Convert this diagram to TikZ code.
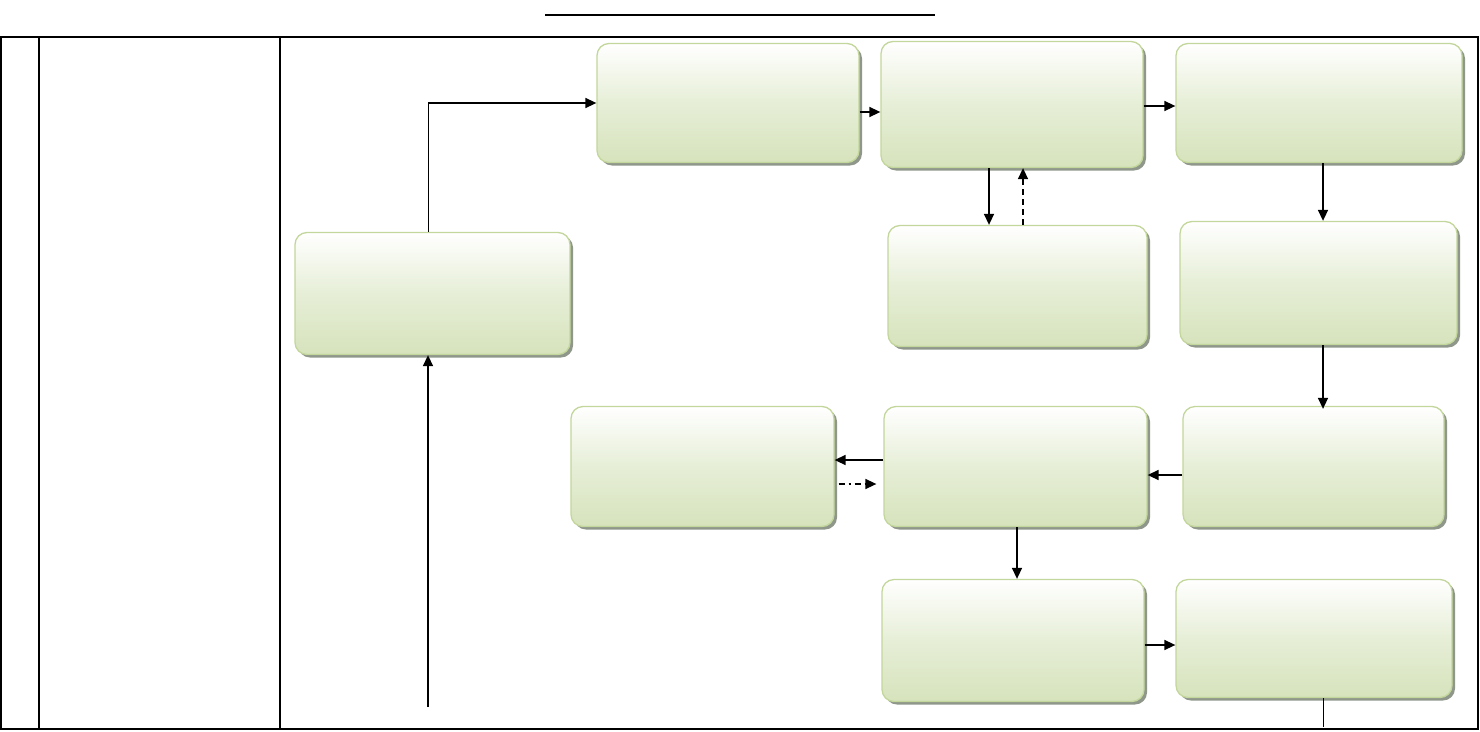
\documentclass[tikz,border=0pt]{standalone}
\usetikzlibrary{arrows.meta,shadows}

\definecolor{boxgreen}{RGB}{214,227,188}
\definecolor{boxline}{RGB}{195,214,155}
\definecolor{shadowgray}{RGB}{143,150,138}

\tikzset{
	stepbox/.style={rounded corners=12pt,draw=boxline,line width=1.3pt,
		top color=white,bottom color=boxgreen,middle color=boxgreen!60,
		drop shadow={shadow xshift=3pt,shadow yshift=-3pt,fill=shadowgray,opacity=1},
		minimum width=#1,minimum height=119pt,inner sep=0pt},
	stepbox/.default=262pt,
	arr/.style={line width=1.5pt,-{Triangle[length=11pt,width=10pt]}},
}

\begin{document}
\begin{tikzpicture}[x=1pt,y=-1pt,thick]
	\useasboundingbox (0,0) rectangle (1480,731);

	% frame and title rule
	\draw[line width=1.4pt] (545,15) -- (935,15);
	\draw[line width=1.4pt] (1,37) rectangle (1478,729);
	\draw[line width=1.4pt] (39,37) -- (39,729);
	\draw[line width=1.4pt] (280,37) -- (280,729);

	\node[stepbox] (A) at (728,103) {};
	\node[stepbox,minimum height=126pt] (B) at (1012,104.5) {};
	\node[stepbox=286pt] (C) at (1319,103) {};
	\node[stepbox=259pt,minimum height=121pt] (D) at (1017.5,286) {};
	\node[stepbox=277pt,minimum height=123pt] (E) at (1318.5,283) {};
	\node[stepbox=275pt,minimum height=122pt] (F) at (432.5,293.5) {};
	\node[stepbox=263pt,minimum height=120pt] (G) at (702.5,466.5) {};
	\node[stepbox=263pt,minimum height=120pt] (H) at (1015.5,466.5) {};
	\node[stepbox=261pt,minimum height=120pt] (I) at (1313.5,466.5) {};
	\node[stepbox,minimum height=122pt] (J) at (1013,640.5) {};
	\node[stepbox=276pt,minimum height=118pt] (K) at (1314,638.5) {};

	\coordinate (src) at (428,707);
	\coordinate (snk) at (1323,727);
	\coordinate (fk) at ([xshift=-4.5pt]F.north |- A.west);

	\draw[arr] (src) -- (src |- F.south);
	\draw[line width=0.8pt] ([xshift=-4.5pt]F.north) -- (fk);
	\draw[arr] (fk) -- (A.west);
	\draw[arr] ([yshift=-9pt]A.east) -- ([yshift=-9pt]A.east -| B.west);
	\draw[arr] ([yshift=-1.5pt]B.east) -- ([yshift=-1.5pt]B.east -| C.west);
	\draw[arr] ([xshift=-23pt]B.south) -- ([xshift=-23pt]B.south |- D.north);
	\draw[arr,dashed,dash pattern=on 6pt off 4pt] ([xshift=5.5pt]D.north) -- ([xshift=5.5pt]D.north |- B.south);
	\draw[arr] ([xshift=4pt]C.south) -- ([xshift=4pt]C.south |- E.north);
	\draw[arr] ([xshift=4.5pt]E.south) -- ([xshift=4.5pt,yshift=-3pt]E.south |- I.north);
	\draw[arr] ([yshift=-8.5pt]I.west) -- ([yshift=-8.5pt]I.west -| H.east);
	\draw[arr] ([yshift=6.5pt]H.west) -- ([yshift=6.5pt]H.west -| G.east);
	\draw[arr,dash pattern=on 6pt off 4pt on 2pt off 4pt] ([xshift=4pt,yshift=-17.5pt]G.east) -- ([xshift=-7pt,yshift=-17.5pt]G.east -| H.west);
	\draw[arr] ([xshift=1.5pt]H.south) -- ([xshift=1.5pt]H.south |- J.north);
	\draw[arr] ([yshift=-4.5pt]J.east) -- ([yshift=-4.5pt]J.east -| K.west);
	\draw[line width=0.8pt] (K.south -| snk) -- (snk);
\end{tikzpicture}
\end{document}
